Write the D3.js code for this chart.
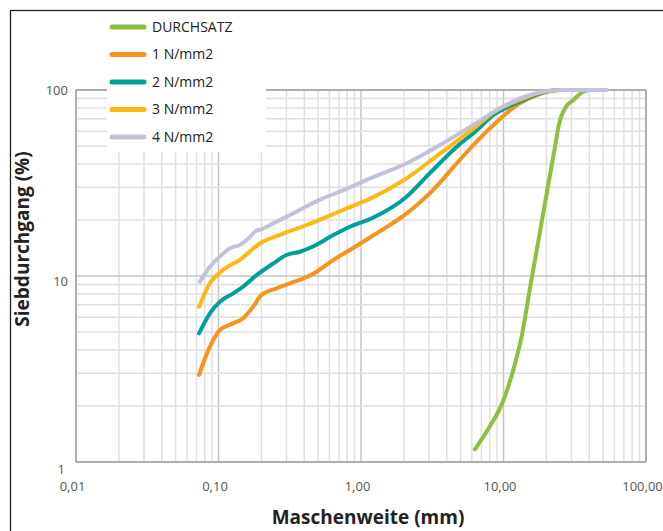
<!DOCTYPE html>
<html>
<head>
<meta charset="utf-8">
<script src="https://cdn.jsdelivr.net/npm/d3@7"></script>
<style>
body { margin: 0; background: #fff; }
text { font-family: "Open Sans", sans-serif; }
</style>
</head>
<body>
<svg id="chart" width="663" height="531"></svg>
<script>
// Legend order, names and colours
var seriesNames = ["DURCHSATZ", "1 N/mm2", "2 N/mm2", "3 N/mm2", "4 N/mm2"];
var seriesColors = ["#8dc03f", "#f7941d", "#00a09a", "#fdb913", "#c2c2da"];

// [Maschenweite mm, Siebdurchgang %]
var durchsatz = [[6.3, 1.17], [8.0, 1.55], [10, 2.15], [11.7, 3.12], [13.4, 4.72], [15.4, 8.77],
  [17.6, 15.6], [20.1, 27.8], [23, 49.6], [24.6, 66.2], [27, 79.7], [30.9, 88.4], [36.3, 97.9], [40, 100]];
var n1 = [[0.073, 2.94], [0.087, 4.17], [0.1025, 5.13], [0.127, 5.57], [0.149, 5.93], [0.175, 6.84],
  [0.2, 7.9], [0.256, 8.59], [0.318, 9.14], [0.405, 9.78], [0.489, 10.55], [0.64, 12.2], [0.836, 13.8],
  [1.2, 16.4], [2.09, 21.7], [3.03, 27.8], [3.58, 31.8], [4.7, 40.4], [6.14, 50.6], [8.5, 64.9],
  [13, 84.8], [18, 95], [25, 100], [32, 100]];
var n2 = [[0.073, 4.92], [0.087, 6.3], [0.1025, 7.28], [0.127, 8.07], [0.149, 8.77], [0.185, 10.1],
  [0.243, 11.7], [0.3, 12.97], [0.373, 13.5], [0.46, 14.4], [0.64, 16.6], [0.836, 18.4], [1.2, 20.5],
  [2.09, 26.7], [3.03, 35.6], [4.7, 49.6], [6.14, 58.5], [8.5, 73.4], [13, 86.5], [18, 96], [25, 100], [32, 100]];
var n3 = [[0.073, 6.84], [0.087, 9.14], [0.108, 10.8], [0.141, 12.2], [0.196, 15.0], [0.285, 16.9],
  [0.416, 18.8], [0.575, 20.8], [0.794, 23.1], [1.2, 26.4], [2.09, 33.5], [3.58, 45.5], [6.14, 62],
  [9, 78], [13, 88.5], [18, 97], [25, 100], [35, 100]];
var n4 = [[0.074, 9.3], [0.087, 11.2], [0.108, 13.2], [0.12, 14.1], [0.141, 14.7], [0.162, 15.9],
  [0.18, 17.3], [0.206, 18.0], [0.256, 19.6], [0.3, 20.8], [0.544, 26.2], [0.71, 28.4], [1.16, 33.5],
  [2.09, 40.4], [3.58, 50.6], [6.14, 64.9], [9.45, 79.7], [13, 90.2], [18, 97], [25, 100], [53, 100]];
var seriesData = [durchsatz, n1, n2, n3, n4];

var xTicks = [0.01, 0.1, 1, 10, 100];
var yTicks = [1, 10, 100];

var svg = d3.select("#chart");

var x = d3.scaleLog().domain([0.01, 100]).range([76, 646]);
var y = d3.scaleLog().domain([1, 100]).range([462, 90]);

function isMajor(v) { return Math.abs(Math.log10(v) - Math.round(Math.log10(v))) < 1e-9; }

// outer frame (only left and top edges show)
svg.append("rect")
    .attr("x", 10.5).attr("y", 10.5)
    .attr("width", 700).attr("height", 600)
    .attr("fill", "none")
    .attr("stroke", "#222")
    .attr("stroke-width", 1.3);

// grid
var grid = svg.append("g");
grid.selectAll("line.v")
  .data(x.ticks())
  .enter().append("line")
    .attr("x1", function(d) { return x(d); })
    .attr("x2", function(d) { return x(d); })
    .attr("y1", y.range()[0]).attr("y2", y.range()[1])
    .attr("stroke", function(d) { return isMajor(d) ? "#c4c4c4" : "#e0e0e0"; })
    .attr("stroke-width", 1.5);
grid.selectAll("line.h")
  .data(y.ticks())
  .enter().append("line")
    .attr("y1", function(d) { return y(d); })
    .attr("y2", function(d) { return y(d); })
    .attr("x1", x.range()[0]).attr("x2", x.range()[1])
    .attr("stroke", function(d) { return isMajor(d) ? "#c4c4c4" : "#e0e0e0"; })
    .attr("stroke-width", 1.5);

// plot border
svg.append("rect")
    .attr("x", x.range()[0]).attr("y", y.range()[1])
    .attr("width", x.range()[1] - x.range()[0])
    .attr("height", y.range()[0] - y.range()[1])
    .attr("fill", "none")
    .attr("stroke", "#8a8a8a")
    .attr("stroke-width", 1);

// white legend backdrop covers the grid
svg.append("rect")
    .attr("x", 107).attr("y", 14)
    .attr("width", 159).attr("height", 138)
    .attr("fill", "#fff");

// axes
var xAxis = svg.append("g")
    .attr("transform", "translate(0," + y.range()[0] + ")")
    .call(d3.axisBottom(x).tickValues(xTicks).tickSize(0).tickPadding(20)
      .tickFormat(function(d) { return d3.format(".2f")(d).replace(".", ","); }));
xAxis.select(".domain").remove();
xAxis.selectAll("text")
    .attr("dx", -4)
    .attr("fill", "#555")
    .style("font-size", "13px")
    .style("font-family", "'Open Sans', sans-serif");

var yAxis = svg.append("g")
    .attr("transform", "translate(" + x.range()[0] + ",0)")
    .call(d3.axisLeft(y).tickValues(yTicks).tickSize(0).tickPadding(8).tickFormat(d3.format("d")));
yAxis.select(".domain").remove();
yAxis.selectAll("text")
    .attr("dy", function(d) { return d === 1 ? "0.88em" : d === 10 ? "0.72em" : "0.32em"; })
    .attr("dx", function(d) { return d === 1 ? -3 : 0; })
    .attr("fill", "#555")
    .style("font-size", "13px")
    .style("font-family", "'Open Sans', sans-serif");

// axis titles
svg.append("text")
    .attr("x", 368).attr("y", 524)
    .attr("text-anchor", "middle")
    .attr("font-weight", "bold")
    .attr("font-size", 19)
    .attr("fill", "#222")
    .text("Maschenweite (mm)");
svg.append("text")
    .attr("transform", "translate(29,239) rotate(-90)")
    .attr("text-anchor", "middle")
    .attr("font-weight", "bold")
    .attr("font-size", 19)
    .attr("fill", "#222")
    .text("Siebdurchgang (%)");

// curves
var line = d3.line()
    .x(function(d) { return x(d[0]); })
    .y(function(d) { return y(d[1]); })
    .curve(d3.curveMonotoneX);

svg.append("g").selectAll("path")
  .data(seriesData)
  .enter().append("path")
    .attr("d", line)
    .attr("fill", "none")
    .attr("stroke", function(d, i) { return seriesColors[i]; })
    .attr("stroke-width", 4)
    .attr("stroke-linecap", "round")
    .attr("stroke-linejoin", "round");

// legend
var legend = svg.append("g").selectAll("g")
  .data(seriesNames)
  .enter().append("g")
    .attr("transform", function(d, i) { return "translate(110," + (27 + i * 27.5) + ")"; });
legend.append("line")
    .attr("x1", 2).attr("x2", 34)
    .attr("stroke", function(d, i) { return seriesColors[i]; })
    .attr("stroke-width", 5)
    .attr("stroke-linecap", "round");
legend.append("text")
    .attr("x", 42).attr("dy", "0.35em")
    .attr("font-size", 14)
    .attr("fill", "#222")
    .text(function(d) { return d; });
</script>
</body>
</html>
